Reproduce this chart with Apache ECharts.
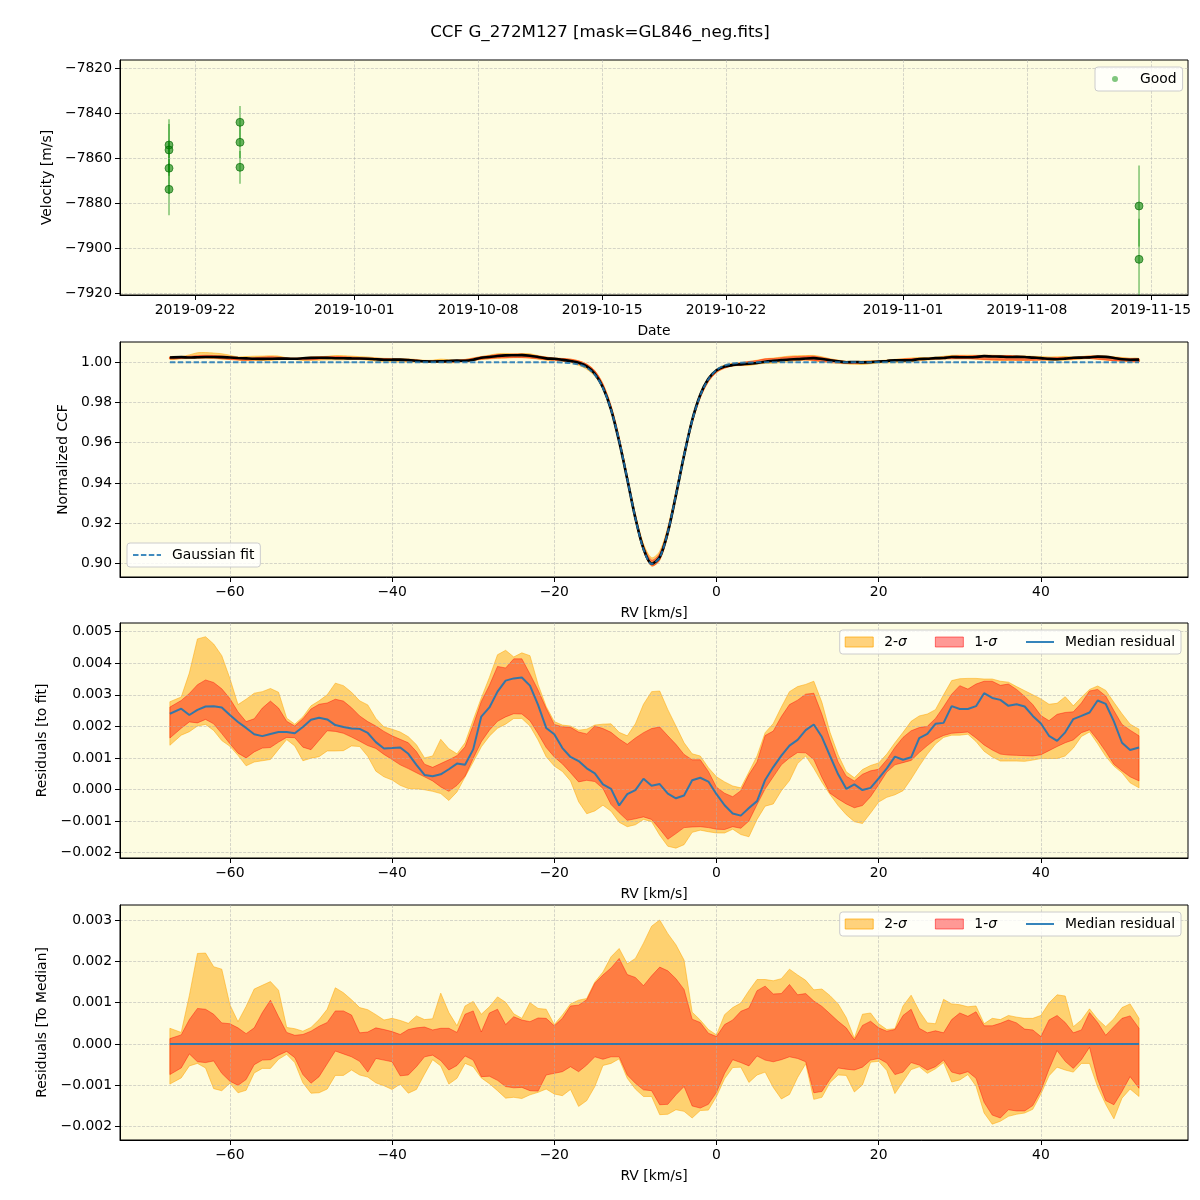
<!DOCTYPE html>
<html>
<head>
    <meta charset="utf-8">
    <title>CCF G_272M127</title>
    <script src="https://cdn.jsdelivr.net/npm/echarts@6.0.0/dist/echarts.min.js"></script>
    <style>
        body { margin: 0; background: #fff; }
        #main { width: 1200px; height: 1200px; }
    </style>
</head>
<body>
<div id="main"></div>
<script type="text/javascript">
    // ---- panel 1: velocities per observation ----
    var obsTimes = ['2019-09-20T12:45', '2019-09-20T12:45', '2019-09-20T12:45', '2019-09-20T12:45',
                    '2019-09-24T13:00', '2019-09-24T13:00', '2019-09-24T13:00',
                    '2019-11-14T08:00', '2019-11-14T08:00'];
    var obsVel = [-7854.1, -7856.3, -7864.4, -7873.8, -7844.0, -7852.9, -7864.0, -7881.2, -7904.9];
    var obsErr = [11.5, 11.5, 11.5, 11.5, 7.3, 7.3, 7.3, 18, 18];
    var dateTicks = ['2019-09-22', '2019-10-01', '2019-10-08', '2019-10-15',
                     '2019-10-22', '2019-11-01', '2019-11-08', '2019-11-15'];
    var velTicks = [-7920, -7900, -7880, -7860, -7840, -7820];

    // ---- RV grid shared by panels 2-4 ----
    var rv = [-67.4, -66, -65, -64, -63, -62, -61, -60, -59, -58,
              -57, -56, -55, -54, -53, -52, -51, -50, -49, -48,
              -47, -46, -45, -44, -43, -42, -41, -40, -39, -38,
              -37, -36, -35, -34, -33, -32, -31, -30, -29, -28,
              -27, -26, -25, -24, -23, -22, -21, -20, -19, -18,
              -17, -16, -15, -14, -13, -12, -11, -10, -9, -8,
              -7, -6, -5, -4, -3, -2, -1, 0, 1, 2,
              3, 4, 5, 6, 7, 8, 9, 10, 11, 12,
              13, 14, 15, 16, 17, 18, 19, 20, 21, 22,
              23, 24, 25, 26, 27, 28, 29, 30, 31, 32,
              33, 34, 35, 36, 37, 38, 39, 40, 41, 42,
              43, 44, 45, 46, 47, 48, 49, 50, 51, 52.1];

    // gaussian fit of the CCF
    var fit = [1, 1, 1, 1, 1, 1, 1, 1, 1, 1,
               1, 1, 1, 1, 1, 1, 1, 1, 1, 1,
               1, 1, 1, 1, 1, 1, 1, 1, 1, 1,
               1, 1, 1, 1, 1, 1, 1, 1, 1, 1,
               1, 1, 1, 1, 1, 1, 1, 1, 0.9999, 0.9996,
               0.9989, 0.9973, 0.9938, 0.9873, 0.9765, 0.9611, 0.9420, 0.9225, 0.9070, 0.8997,
               0.9029, 0.9156, 0.9341, 0.9538, 0.9709, 0.9835, 0.9916, 0.9962, 0.9984, 0.9994,
               0.9998, 0.9999, 1, 1, 1, 1, 1, 1, 1, 1,
               1, 1, 1, 1, 1, 1, 1, 1, 1, 1,
               1, 1, 1, 1, 1, 1, 1, 1, 1, 1,
               1, 1, 1, 1, 1, 1, 1, 1, 1, 1,
               1, 1, 1, 1, 1, 1, 1, 1, 1, 1];

    // residuals to fit
    var res2Hi = [.00278, .00293, .00369, .00477, .00484, .00461, .00424, .00352, .00269, .00286,
                  .00305, .00310, .00320, .00308, .00226, .00207, .00230, .00265, .00281, .00300,
                  .00337, .00329, .00308, .00281, .00268, .00225, .00198, .00191, .00182, .00167,
                  .00142, .00100, .00106, .00159, .00129, .00113, .00148, .00220, .00290, .00355,
                  .00427, .00441, .00420, .00433, .00424, .00333, .00263, .00215, .00204, .00201,
                  .00188, .00191, .00204, .00207, .00208, .00181, .00170, .00208, .00270, .00310,
                  .00312, .00253, .00201, .00148, .00113, .00106, .00069, .00040, .00024, .00011,
                  .00005, .00055, .00106, .00180, .00209, .00261, .00310, .00326, .00333, .00343,
                  .00276, .00181, .00110, .00056, .00037, .00063, .00076, .00084, .00112, .00148,
                  .00181, .00216, .00233, .00239, .00253, .00300, .00345, .00351, .00352, .00352,
                  .00350, .00350, .00343, .00340, .00326, .00313, .00300, .00287, .00270, .00273,
                  .00294, .00265, .00292, .00317, .00328, .00314, .00276, .00240, .00207, .00191];
    var res1Hi = [.00261, .00282, .00304, .00332, .00347, .00339, .00319, .00288, .00246, .00215,
                  .00224, .00258, .00280, .00258, .00216, .00201, .00224, .00255, .00270, .00274,
                  .00286, .00280, .00259, .00233, .00215, .00201, .00184, .00170, .00159, .00148,
                  .00120, .00080, .00070, .00082, .00094, .00107, .00135, .00204, .00279, .00330,
                  .00390, .00385, .00414, .00414, .00366, .00315, .00257, .00206, .00199, .00197,
                  .00182, .00176, .00201, .00193, .00181, .00160, .00143, .00163, .00180, .00193,
                  .00198, .00170, .00143, .00111, .00094, .00094, .00057, .00007, -.00012, -.00023,
                  -.00004, .00047, .00087, .00171, .00185, .00231, .00269, .00283, .00302, .00305,
                  .00238, .00158, .00087, .00042, .00027, .00048, .00059, .00064, .00094, .00133,
                  .00165, .00186, .00196, .00200, .00225, .00262, .00302, .00329, .00318, .00334,
                  .00343, .00343, .00330, .00334, .00317, .00295, .00269, .00234, .00218, .00238,
                  .00244, .00246, .00274, .00312, .00317, .00296, .00250, .00206, .00188, .00170];
    var resMed = [.00240, .00256, .00236, .00252, .00263, .00264, .00260, .00236, .00214, .00195,
                  .00175, .00169, .00176, .00182, .00182, .00178, .00198, .00221, .00227, .00222,
                  .00204, .00198, .00193, .00192, .00179, .00150, .00130, .00131, .00133, .00113,
                  .00078, .00046, .00042, .00048, .00064, .00082, .00078, .00127, .00231, .00260,
                  .00310, .00345, .00352, .00355, .00329, .00268, .00195, .00175, .00131, .00103,
                  .00090, .00067, .00051, .00016, .00002, -.00051, -.00015, -.00002, .00034, .00012,
                  .00017, -.00013, -.00028, -.00019, .00029, .00037, .00025, -.00015, -.00050, -.00076,
                  -.00083, -.00059, -.00037, .00030, .00071, .00107, .00139, .00157, .00188, .00206,
                  .00166, .00106, .00048, .00002, .00016, -.00002, .00005, .00035, .00067, .00104,
                  .00094, .00102, .00163, .00176, .00208, .00211, .00264, .00255, .00255, .00264,
                  .00305, .00290, .00284, .00265, .00270, .00263, .00233, .00209, .00170, .00154,
                  .00181, .00223, .00233, .00244, .00282, .00271, .00216, .00148, .00125, .00133];
    var res1Lo = [.00163, .00194, .00214, .00211, .00222, .00208, .00177, .00145, .00115, .00100,
                  .00119, .00131, .00133, .00150, .00165, .00164, .00134, .00126, .00156, .00186,
                  .00184, .00178, .00166, .00153, .00139, .00130, .00111, .00095, .00078, .00066,
                  .00053, .00040, .00027, .00008, -.00006, .00013, .00042, .00098, .00151, .00188,
                  .00216, .00230, .00240, .00239, .00218, .00177, .00133, .00103, .00081, .00053,
                  .00024, .00029, .00025, .00003, -.00048, -.00074, -.00098, -.00093, -.00087, -.00095,
                  -.00125, -.00158, -.00140, -.00121, -.00119, -.00118, -.00121, -.00126, -.00127, -.00118,
                  -.00123, -.00100, -.00048, .00002, .00040, .00078, .00100, .00117, .00116, .00095,
                  .00038, -.00012, -.00030, -.00046, -.00058, -.00051, -.00023, .00015, .00055, .00078,
                  .00085, .00092, .00117, .00139, .00159, .00171, .00178, .00180, .00182, .00163,
                  .00141, .00125, .00112, .00109, .00108, .00107, .00106, .00110, .00123, .00136,
                  .00148, .00157, .00180, .00189, .00157, .00120, .00080, .00059, .00040, .00027];
    var res2Lo = [.00140, .00172, .00183, .00201, .00206, .00187, .00155, .00137, .00108, .00075,
                  .00087, .00091, .00095, .00127, .00158, .00138, .00091, .00099, .00104, .00122,
                  .00122, .00123, .00138, .00136, .00105, .00058, .00040, .00030, .00013, .00003,
                  .00002, -.00001, -.00006, -.00013, -.00035, -.00008, .00040, .00087, .00135, .00169,
                  .00194, .00207, .00225, .00225, .00201, .00157, .00104, .00074, .00057, .00027,
                  -.00039, -.00077, -.00068, -.00050, -.00069, -.00104, -.00118, -.00112, -.00095, -.00102,
                  -.00145, -.00180, -.00186, -.00175, -.00136, -.00129, -.00134, -.00138, -.00138, -.00126,
                  -.00143, -.00150, -.00095, -.00053, -.00046, -.00004, .00028, .00082, .00106, .00067,
                  .00023, -.00016, -.00051, -.00080, -.00102, -.00108, -.00075, -.00040, -.00025, -.00017,
                  -.00004, .00033, .00074, .00112, .00144, .00165, .00172, .00172, .00175, .00152,
                  .00121, .00103, .00090, .00090, .00090, .00089, .00093, .00098, .00098, .00098,
                  .00106, .00131, .00168, .00182, .00145, .00105, .00074, .00053, .00021, .00005];

    // residuals to median
    var med2Hi = [.00038, .00028, .00117, .00219, .00220, .00187, .00181, .00095, .00054, .00091,
                  .00133, .00142, .00151, .00130, .00040, .00037, .00031, .00040, .00059, .00084,
                  .00136, .00124, .00107, .00088, .00083, .00071, .00058, .00062, .00057, .00050,
                  .00068, .00059, .00061, .00123, .00076, .00044, .00092, .00103, .00072, .00090,
                  .00114, .00101, .00073, .00062, .00100, .00086, .00084, .00047, .00070, .00097,
                  .00106, .00110, .00150, .00174, .00211, .00231, .00194, .00207, .00244, .00285,
                  .00300, .00267, .00240, .00203, .00077, .00058, .00035, .00022, .00071, .00088,
                  .00099, .00129, .00156, .00156, .00153, .00158, .00181, .00167, .00154, .00131,
                  .00133, .00117, .00097, .00064, .00014, .00072, .00075, .00049, .00035, .00037,
                  .00092, .00118, .00080, .00051, .00049, .00108, .00097, .00095, .00090, .00092,
                  .00049, .00062, .00059, .00069, .00065, .00062, .00062, .00069, .00099, .00119,
                  .00116, .00042, .00058, .00085, .00060, .00042, .00061, .00088, .00097, .00062];
    var med1Hi = [.00013, .00022, .00059, .00086, .00084, .00072, .00051, .00049, .00039, .00025,
                  .00039, .00076, .00106, .00066, .00028, .00021, .00023, .00031, .00043, .00052,
                  .00080, .00080, .00070, .00027, .00029, .00039, .00035, .00030, .00023, .00035,
                  .00039, .00041, .00034, .00038, .00038, .00028, .00072, .00080, .00029, .00075,
                  .00084, .00047, .00066, .00058, .00054, .00063, .00062, .00044, .00062, .00092,
                  .00094, .00107, .00147, .00167, .00184, .00207, .00168, .00161, .00141, .00165,
                  .00186, .00177, .00158, .00132, .00060, .00052, .00026, .00018, .00047, .00058,
                  .00079, .00087, .00129, .00140, .00121, .00122, .00144, .00119, .00122, .00104,
                  .00091, .00073, .00055, .00039, .00010, .00045, .00055, .00039, .00031, .00035,
                  .00069, .00084, .00038, .00027, .00032, .00027, .00059, .00075, .00067, .00078,
                  .00044, .00044, .00050, .00058, .00051, .00036, .00034, .00018, .00058, .00069,
                  .00052, .00027, .00034, .00076, .00052, .00021, .00042, .00062, .00068, .00038];
    var med1Lo = [-.00074, -.00058, -.00024, -.00043, -.00045, -.00041, -.00071, -.00090, -.00100, -.00086,
                  -.00050, -.00039, -.00038, -.00027, -.00018, -.00033, -.00074, -.00095, -.00079, -.00048,
                  -.00017, -.00024, -.00031, -.00042, -.00068, -.00035, -.00039, -.00043, -.00077, -.00075,
                  -.00055, -.00031, -.00027, -.00040, -.00063, -.00052, -.00029, -.00039, -.00079, -.00078,
                  -.00088, -.00103, -.00106, -.00105, -.00113, -.00114, -.00075, -.00071, -.00067, -.00055,
                  -.00067, -.00051, -.00031, -.00037, -.00031, -.00031, -.00075, -.00095, -.00111, -.00113,
                  -.00147, -.00146, -.00123, -.00103, -.00150, -.00155, -.00146, -.00117, -.00071, -.00038,
                  -.00045, -.00053, -.00029, -.00039, -.00043, -.00038, -.00031, -.00035, -.00043, -.00118,
                  -.00115, -.00085, -.00058, -.00061, -.00063, -.00056, -.00039, -.00035, -.00046, -.00074,
                  -.00068, -.00045, -.00051, -.00063, -.00055, -.00039, -.00068, -.00073, -.00067, -.00083,
                  -.00141, -.00172, -.00179, -.00159, -.00162, -.00162, -.00149, -.00113, -.00061, -.00016,
                  -.00042, -.00059, -.00038, -.00008, -.00086, -.00137, -.00147, -.00115, -.00079, -.00107];
    var med2Lo = [-.00097, -.00082, -.00053, -.00047, -.00058, -.00108, -.00113, -.00095, -.00118, -.00112,
                  -.00070, -.00059, -.00059, -.00037, -.00025, -.00045, -.00094, -.00119, -.00118, -.00109,
                  -.00076, -.00076, -.00063, -.00075, -.00080, -.00094, -.00101, -.00110, -.00097, -.00119,
                  -.00110, -.00073, -.00038, -.00053, -.00097, -.00083, -.00047, -.00055, -.00082, -.00096,
                  -.00113, -.00131, -.00129, -.00132, -.00123, -.00117, -.00109, -.00121, -.00125, -.00110,
                  -.00151, -.00137, -.00103, -.00052, -.00047, -.00036, -.00083, -.00109, -.00127, -.00127,
                  -.00171, -.00170, -.00159, -.00163, -.00179, -.00161, -.00160, -.00127, -.00084, -.00057,
                  -.00056, -.00093, -.00075, -.00068, -.00105, -.00133, -.00122, -.00081, -.00048, -.00134,
                  -.00129, -.00093, -.00075, -.00076, -.00116, -.00099, -.00044, -.00042, -.00064, -.00120,
                  -.00091, -.00062, -.00055, -.00071, -.00060, -.00045, -.00092, -.00087, -.00074, -.00102,
                  -.00167, -.00194, -.00187, -.00175, -.00170, -.00167, -.00158, -.00121, -.00077, -.00056,
                  -.00063, -.00068, -.00047, -.00047, -.00104, -.00146, -.00181, -.00131, -.00109, -.00127];

    var rvTicks = [-60, -40, -20, 0, 20, 40];
    var ccfTicks = [0.90, 0.92, 0.94, 0.96, 0.98, 1.00];
    var fitResTicks = [-0.002, -0.001, 0, 0.001, 0.002, 0.003, 0.004, 0.005];
    var medResTicks = [-0.002, -0.001, 0, 0.001, 0.002, 0.003];

    var FONT = 'DejaVu Sans';
    var FS = 13.9;
    var C2S = 'rgba(255,165,0,0.5)';
    var C1S = 'rgba(255,0,0,0.4)';

    function t(s) { return new Date(s).getTime(); }
    function pad(n) { return n < 10 ? '0' + n : '' + n; }
    function fmtDate(v) {
        var d = new Date(v);
        return d.getFullYear() + '-' + pad(d.getMonth() + 1) + '-' + pad(d.getDate());
    }
    function minus(s) { return String(s).replace('-', '\u2212'); }

    var splitLine = {show: true, lineStyle: {color: 'rgba(176,176,176,0.65)', width: 0.8, type: [3, 1.4]}};
    var labelStyle = {color: '#000', fontSize: FS, fontFamily: FONT, margin: 8};
    var nameStyle = {color: '#000', fontSize: FS, fontFamily: FONT};

    function xAxisFor(i, name, ticks, min, max, fmt) {
        return {
            type: 'value', gridIndex: i, min: min, max: max, z: 3,
            name: name, nameLocation: 'middle', nameGap: 29, nameTextStyle: nameStyle,
            axisLine: {show: true, onZero: false, lineStyle: {color: '#000', width: 1}},
            axisTick: {show: true, length: 5, customValues: ticks, lineStyle: {color: '#000'}},
            axisLabel: Object.assign({customValues: ticks, formatter: fmt}, labelStyle),
            splitLine: splitLine
        };
    }
    function yAxisFor(i, name, gap, ticks, min, max, fmt) {
        return {
            type: 'value', gridIndex: i, min: min, max: max, z: 3,
            name: name, nameLocation: 'middle', nameGap: gap, nameTextStyle: nameStyle,
            axisLine: {show: true, onZero: false, lineStyle: {color: '#000', width: 1}},
            axisTick: {show: true, length: 5, customValues: ticks, lineStyle: {color: '#000'}},
            axisLabel: Object.assign({customValues: ticks, formatter: fmt}, labelStyle),
            splitLine: splitLine
        };
    }

    function band(name, gi, lo, hi, color, smooth) {
        return {
            name: name, type: 'custom', xAxisIndex: gi, yAxisIndex: gi, silent: true, z: 1,
            data: rv.map(function (x, i) { return [x, lo[i], hi[i]]; }),
            renderItem: function (params, api) {
                if (params.dataIndex !== 0) return null;
                var pts = [], i;
                for (i = 0; i < rv.length; i++) pts.push(api.coord([rv[i], hi[i]]));
                for (i = rv.length - 1; i >= 0; i--) pts.push(api.coord([rv[i], lo[i]]));
                return {
                    type: 'polygon',
                    shape: {points: pts, smooth: smooth || 0},
                    style: {fill: color, stroke: color, lineWidth: 1}
                };
            }
        };
    }

    function addTo(base, res) {
        return base.map(function (v, i) { return v + res[i]; });
    }

    var legendBase = {
        orient: 'horizontal', selectedMode: false, itemWidth: 28, itemHeight: 10, itemGap: 28,
        backgroundColor: 'rgba(255,255,255,0.8)', borderColor: '#cccccc', borderWidth: 1, borderRadius: 3,
        padding: [5, 6, 5, 5],
        textStyle: {color: '#000', fontSize: FS, fontFamily: FONT, padding: [0, 0, 0, 6],
                    rich: {i: {fontStyle: 'italic', fontSize: FS, fontFamily: FONT, color: '#000'}}},
        formatter: function (n) { return n.replace('\u03c3', '{i|\u03c3}'); }
    };
    var noSymbol = {opacity: 0};
    function bandLegend(top) {
        return Object.assign({}, legendBase, {
            right: 19, top: top,
            data: [
                {name: '2-\u03c3', icon: 'rect', itemStyle: {color: 'rgba(255,165,0,0.5)', borderColor: 'rgba(255,165,0,0.7)', borderWidth: 1}},
                {name: '1-\u03c3', icon: 'rect', itemStyle: {color: 'rgba(255,0,0,0.4)', borderColor: 'rgba(255,0,0,0.5)', borderWidth: 1}},
                {name: 'Median residual', itemStyle: noSymbol}
            ]
        });
    }

    var chart = echarts.init(document.getElementById('main'));

    var obsData = obsTimes.map(function (s, i) { return [t(s), obsVel[i], obsErr[i]]; });

    var option = {
        animation: false,
        backgroundColor: '#ffffff',
        textStyle: {fontFamily: FONT},
        title: {
            text: 'CCF G_272M127 [mask=GL846_neg.fits]', left: 'center', top: 19,
            textStyle: {fontFamily: FONT, fontSize: 16.7, fontWeight: 'normal', color: '#000'}
        },
        grid: [
            {left: 120, top: 60, width: 1068, height: 235},
            {left: 120, top: 342, width: 1068, height: 235},
            {left: 120, top: 623, width: 1068, height: 235},
            {left: 120, top: 905, width: 1068, height: 235}
        ].map(function (g) {
            return Object.assign(g, {show: true, backgroundColor: '#fdfce1', borderColor: '#000', borderWidth: 1, z: 0});
        }),
        xAxis: [
            xAxisFor(0, 'Date', dateTicks.map(function (d) { return t(d + 'T00:00'); }),
                     t('2019-09-17T18:18'), t('2019-11-17T02:24'), fmtDate),
            xAxisFor(1, 'RV [km/s]', rvTicks, -73.55, 58.14, minus),
            xAxisFor(2, 'RV [km/s]', rvTicks, -73.55, 58.14, minus),
            xAxisFor(3, 'RV [km/s]', rvTicks, -73.55, 58.14, minus)
        ],
        yAxis: [
            yAxisFor(0, 'Velocity [m/s]', 58, velTicks, -7920.75, -7816.31, minus),
            yAxisFor(1, 'Normalized CCF', 42, ccfTicks, 0.8932, 1.0101,
                     function (v) { return v.toFixed(2); }),
            yAxisFor(2, 'Residuals [to fit]', 61, fitResTicks, -0.002173, 0.005276,
                     function (v) { return minus(v.toFixed(3)); }),
            yAxisFor(3, 'Residuals [To Median]', 61, medResTicks, -0.002323, 0.003363,
                     function (v) { return minus(v.toFixed(3)); })
        ],
        legend: [
            Object.assign({}, legendBase, {
                left: 1095, top: 67, itemHeight: 6, padding: [5, 6, 5, 17],
                data: [{name: 'Good', icon: 'circle', itemStyle: {color: 'rgba(44,160,44,0.6)', borderWidth: 0}}]
            }),
            Object.assign({}, legendBase, {
                left: 127, top: 543,
                data: [{name: 'Gaussian fit', itemStyle: noSymbol}]
            }),
            bandLegend(630),
            bandLegend(912)
        ],
        series: [
            // panel 1
            {
                name: 'errors', type: 'custom', xAxisIndex: 0, yAxisIndex: 0, clip: true, silent: true, z: 2,
                data: obsData,
                renderItem: function (params, api) {
                    var x = api.value(0), y = api.value(1), e = api.value(2);
                    var a = api.coord([x, y - e]), b = api.coord([x, y + e]);
                    return {type: 'line', shape: {x1: a[0], y1: a[1], x2: b[0], y2: b[1]},
                            style: {stroke: 'rgba(0,140,0,0.5)', lineWidth: 1.5}};
                }
            },
            {
                name: 'Good', type: 'scatter', xAxisIndex: 0, yAxisIndex: 0, silent: true, z: 4,
                symbolSize: 8,
                data: obsData.map(function (d) { return [d[0], d[1]]; }),
                itemStyle: {color: 'rgba(0,128,0,0.6)', borderColor: 'rgba(0,100,0,0.6)', borderWidth: 1, opacity: 1}
            },
            // panel 2
            band('ccf 2-sigma', 1, addTo(fit, res2Lo), addTo(fit, res2Hi), C2S, 0.3),
            band('ccf 1-sigma', 1, addTo(fit, res1Lo), addTo(fit, res1Hi), C1S, 0.3),
            {
                name: 'CCF', type: 'line', xAxisIndex: 1, yAxisIndex: 1, silent: true, z: 5,
                symbol: 'none', smooth: 0.3,
                data: rv.map(function (x, i) { return [x, fit[i] + resMed[i]]; }),
                lineStyle: {color: '#000', width: 2.6}
            },
            {
                name: 'Gaussian fit', type: 'line', xAxisIndex: 1, yAxisIndex: 1, silent: true, z: 6,
                symbol: 'none', smooth: 0.3,
                data: rv.map(function (x, i) { return [x, fit[i]]; }),
                itemStyle: {color: '#1f77b4'},
                lineStyle: {color: '#1f77b4', width: 2, type: [5.5, 2.4], opacity: 0.85}
            },
            // panel 3
            band('2-\u03c3', 2, res2Lo, res2Hi, C2S),
            band('1-\u03c3', 2, res1Lo, res1Hi, C1S),
            {
                name: 'Median residual', type: 'line', xAxisIndex: 2, yAxisIndex: 2, silent: true, z: 5,
                symbol: 'none',
                data: rv.map(function (x, i) { return [x, resMed[i]]; }),
                itemStyle: {color: '#1f77b4'},
                lineStyle: {color: '#1f77b4', width: 2, opacity: 0.9}
            },
            // panel 4
            band('2-\u03c3', 3, med2Lo, med2Hi, C2S),
            band('1-\u03c3', 3, med1Lo, med1Hi, C1S),
            {
                name: 'Median residual', type: 'line', xAxisIndex: 3, yAxisIndex: 3, silent: true, z: 5,
                symbol: 'none',
                data: [[rv[0], 0], [rv[rv.length - 1], 0]],
                itemStyle: {color: '#1f77b4'},
                lineStyle: {color: '#1f77b4', width: 2.2, opacity: 0.9}
            }
        ]
    };

    chart.setOption(option);
</script>
</body>
</html>
